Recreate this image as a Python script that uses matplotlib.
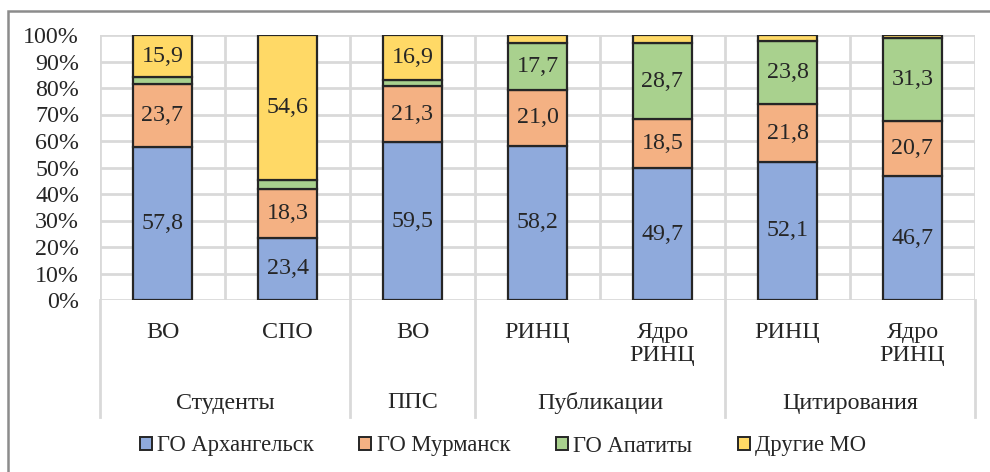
import matplotlib
matplotlib.use("Agg")
import matplotlib.pyplot as plt
from matplotlib.patches import Rectangle, Patch
from matplotlib.transforms import blended_transform_factory
import numpy as np

plt.rcParams['font.family'] = ['Liberation Serif', 'DejaVu Serif']

# Categories and groups
categories = ["ВО", "СПО", "ВО", "РИНЦ", "Ядро\nРИНЦ", "РИНЦ", "Ядро\nРИНЦ"]
groups = ["Студенты", "ППС", "Публикации", "Цитирования"]
group_sizes = [2, 1, 2, 2]

# Shares, %
series_names = ["ГО Архангельск", "ГО Мурманск", "ГО Апатиты", "Другие МО"]
arkhangelsk = [57.8, 23.4, 59.5, 58.2, 49.7, 52.1, 46.7]
murmansk = [23.7, 18.3, 21.3, 21.0, 18.5, 21.8, 20.7]
apatity = [2.6, 3.7, 2.3, 17.7, 28.7, 23.8, 31.3]
other = [15.9, 54.6, 16.9, 3.1, 3.1, 2.3, 1.3]

colors = ["#8FAADC", "#F4B183", "#A9D18E", "#FFD966"]
text_color = "#262626"
grid_color = "#D9D9D9"
fs = 17.3

fig = plt.figure(figsize=(9.9, 4.72), dpi=100)
ax = fig.add_axes([100 / 990, 1 - 300 / 472, 875 / 990, 265 / 472])

x = np.arange(len(categories)) + 0.5
bottom = np.zeros(len(categories))
for name, vals, col in zip(series_names, [arkhangelsk, murmansk, apatity, other], colors):
    vals = np.array(vals)
    ax.bar(x, vals, width=0.465, bottom=bottom, color=col, edgecolor="#262626",
           linewidth=1.6, zorder=3, label=name)
    for xi, b, v in zip(x, bottom, vals):
        if v >= 5:
            ax.text(xi, b + v / 2, f"{v:.1f}".replace(".", ","), ha="center", va="center",
                    fontsize=fs, color=text_color, zorder=4)
    bottom += vals

ax.set_xlim(0, len(categories))
ax.set_ylim(0, 100)

# grid
for yv in range(0, 101, 10):
    ax.axhline(yv, color=grid_color, lw=2, zorder=1)
for xv in range(0, len(categories) + 1):
    ax.axvline(xv, color=grid_color, lw=2, zorder=1)

for s in ax.spines.values():
    s.set_visible(False)

ax.set_yticks(range(0, 101, 10))
ax.set_yticklabels([f"{v}%" for v in range(0, 101, 10)], fontsize=fs, color=text_color)
ax.tick_params(axis="y", length=0, pad=15)

ax.set_xticks(x)
ax.set_xticklabels(categories, fontsize=fs, color=text_color)
ax.tick_params(axis="x", length=0, pad=16)
for lbl in ax.get_xticklabels():
    lbl.set_linespacing(1.12)

# group labels and separators below the axis
trans = blended_transform_factory(ax.transData, ax.transAxes)
sep_bottom = -(417 - 300) / 265
edges = np.concatenate([[0], np.cumsum(group_sizes)])
for e in edges:
    ax.plot([e, e], [0, sep_bottom], transform=trans, color=grid_color, lw=2,
            clip_on=False, zorder=1)
for g, a, b in zip(groups, edges[:-1], edges[1:]):
    ax.text((a + b) / 2, -(403 - 300) / 265, g, transform=trans, ha="center", va="center",
            fontsize=fs, color=text_color)

# legend
handles = [Patch(facecolor=c, edgecolor="#262626", linewidth=1.4) for c in colors]
fig.legend(handles, series_names, loc="center", bbox_to_anchor=(503 / 990, 1 - 446 / 472),
           ncol=4, frameon=False, fontsize=16.3, handlelength=0.53, handleheight=0.53,
           handletextpad=0.25, columnspacing=2.0, labelcolor=text_color)

# outer frame
fig.patches.append(Rectangle((8 / 990, -0.1), 1.2, 1 - 11 / 472 + 0.1, transform=fig.transFigure,
                             fill=False, edgecolor="#8C8C8C", linewidth=1.8))

fig.savefig("out.png", dpi=100)
